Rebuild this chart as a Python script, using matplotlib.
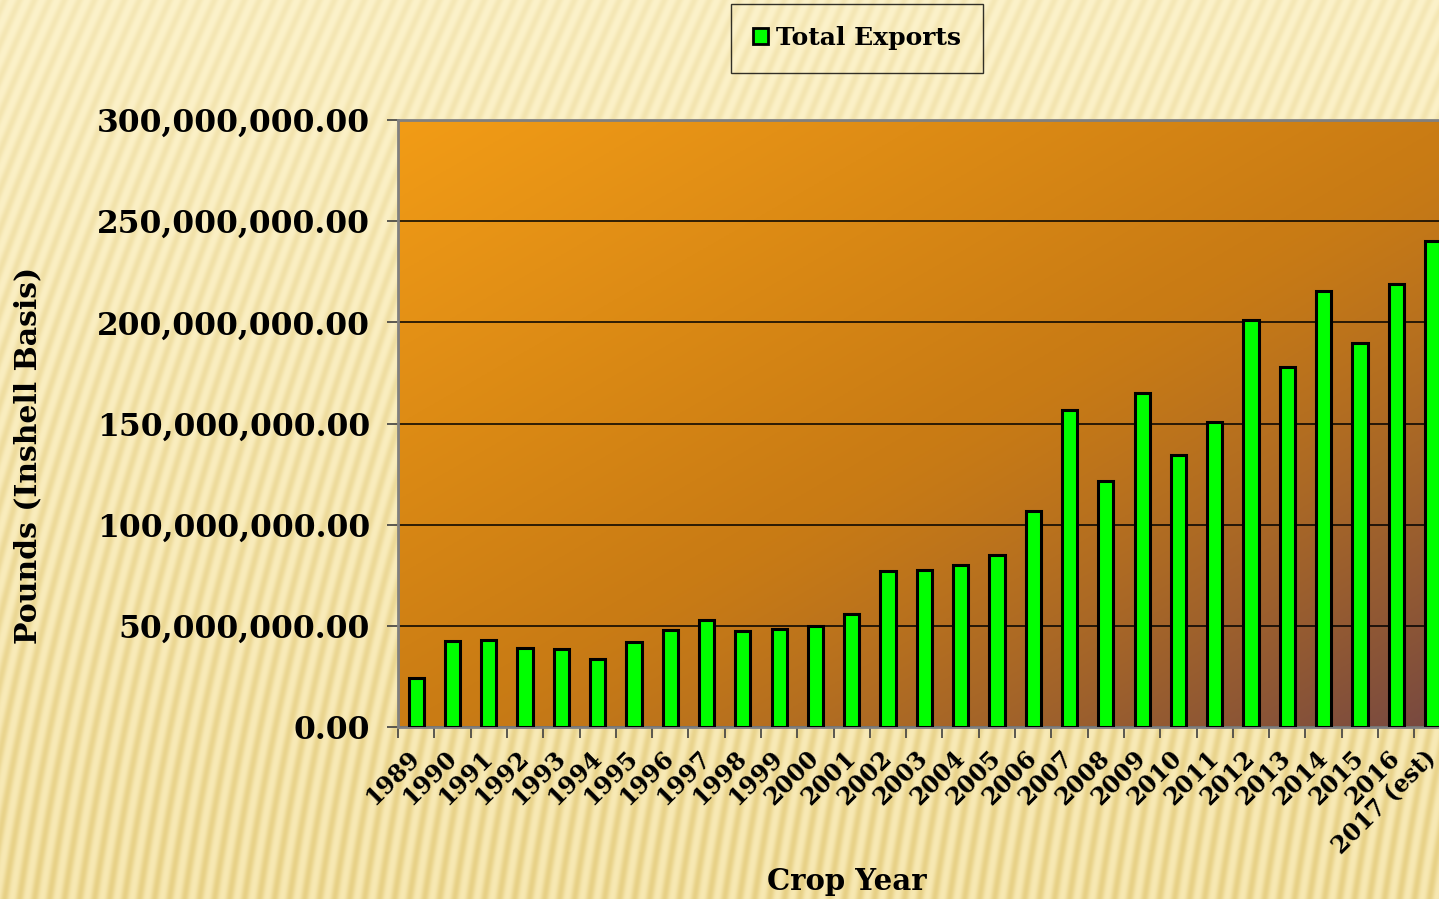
import numpy as np
import matplotlib
matplotlib.use("Agg")
import matplotlib.pyplot as plt
from matplotlib.patches import Patch
from matplotlib.ticker import FuncFormatter, MultipleLocator

# data
years = ["1989", "1990", "1991", "1992", "1993", "1994", "1995", "1996", "1997", "1998",
         "1999", "2000", "2001", "2002", "2003", "2004", "2005", "2006", "2007", "2008",
         "2009", "2010", "2011", "2012", "2013", "2014", "2015", "2016", "2017 (est)"]
exports = [24.2e6, 42.5e6, 43.0e6, 39.0e6, 38.5e6, 33.6e6, 42.0e6, 47.9e6, 52.9e6, 47.4e6,
           48.4e6, 49.9e6, 55.8e6, 77.1e6, 77.6e6, 80.2e6, 85.2e6, 106.9e6, 156.5e6, 121.4e6,
           165.2e6, 134.4e6, 150.6e6, 201.2e6, 177.8e6, 215.3e6, 189.9e6, 218.8e6, 240.3e6]

W, H = 1439, 899
plt.rcParams['font.family'] = ['DejaVu Serif']
plt.rcParams['font.weight'] = 'bold'

fig = plt.figure(figsize=(W / 100, H / 100), dpi=100)

# slide background: pale yellow with soft diagonal stripes
bg_ax = fig.add_axes([0, 0, 1, 1], zorder=-10)
yy, xx = np.mgrid[0:H, 0:W].astype(float)
phase = xx + 0.45 * yy - 0.15 * yy ** 2 / H
stripe = (0.5 + 0.5 * np.sin(2 * np.pi * phase / 15.0)) ** 1.3
t = (yy / H)[..., None]
top_col = np.array([252, 242, 202]) / 255
bot_col = np.array([247, 232, 178]) / 255
dark = np.array([12, 18, 34]) / 255
bg = top_col * (1 - t) + bot_col * t - dark * (0.6 + 0.7 * t) * stripe[..., None]
bg_ax.imshow(np.clip(bg, 0, 1), extent=[0, 1, 0, 1], aspect='auto', origin='upper')
bg_ax.axis('off')

ax = fig.add_axes([398 / W, (H - 727) / H, 29 * 36.3 / W, 607 / H])
ax.patch.set_alpha(0)

# plot area gradient, orange top-left to brown bottom-right
gy, gx = np.mgrid[0:1:200j, 0:1:400j]
g = ((gx + gy) / 2)[..., None]
c0 = np.array([242, 156, 22]) / 255
c1 = np.array([202, 124, 20]) / 255
c2 = np.array([118, 72, 66]) / 255
grad = np.where(g < 0.5, c0 + (c1 - c0) * g / 0.5,
                c1 + (c2 - c1) * ((g - 0.5) / 0.5) ** 1.3)
ax.imshow(grad, extent=[-0.5, len(years) - 0.5, 0, 300e6], aspect='auto',
          origin='upper', zorder=0)

x = np.arange(len(years))
ax.bar(x, exports, width=0.42, color='#00FF00', edgecolor='black', linewidth=2.2, zorder=3)

ax.set_xlim(-0.5, len(years) - 0.5)
ax.set_ylim(0, 300e6)
ax.yaxis.set_major_locator(MultipleLocator(50e6))
ax.yaxis.set_major_formatter(FuncFormatter(lambda v, p: f"{v:,.2f}"))
ax.yaxis.grid(True, color='black', linewidth=1.1, zorder=1)
ax.set_axisbelow(True)

ax.set_xticks(x)
ax.set_xticklabels(years, rotation=45, ha='right', va='center', rotation_mode='anchor',
                   fontsize=17, fontweight='bold')
ax.set_xticks(np.arange(len(years) + 1) - 0.5, minor=True)
ax.tick_params(axis='x', which='major', length=0, pad=20)
ax.tick_params(axis='x', which='minor', length=8, width=1.2, color='#404040', direction='out')
ax.tick_params(axis='y', length=8, width=1.2, color='#404040', labelsize=22.5, pad=12)
for lab in ax.get_yticklabels():
    lab.set_fontweight('bold')

for side in ['left', 'top', 'bottom']:
    ax.spines[side].set_color('#808080')
    ax.spines[side].set_linewidth(2)
ax.spines['right'].set_visible(False)

fig.text(28 / W, 1 - 455 / H, "Pounds (Inshell Basis)", rotation=90, ha='center', va='center',
         fontsize=21.5, fontweight='bold')
fig.text(847 / W, 1 - 882 / H, "Crop Year", ha='center', va='center',
         fontsize=21, fontweight='bold')

handle = Patch(facecolor='#00FF00', edgecolor='black', linewidth=2)
leg = fig.legend([handle], ["Total Exports"], loc='center', bbox_to_anchor=(857 / W, 1 - 38 / H),
                 fontsize=18, frameon=True, fancybox=False, handlelength=0.6, handleheight=0.6,
                 handletextpad=0.3, borderpad=0.9, borderaxespad=0)
leg.get_frame().set_edgecolor('black')
leg.get_frame().set_facecolor('none')
leg.get_frame().set_linewidth(1)
for txt in leg.get_texts():
    txt.set_fontweight('bold')

fig.savefig("out.png", dpi=100)
